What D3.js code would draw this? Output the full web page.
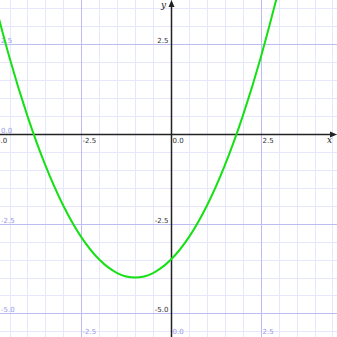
<!DOCTYPE html>
<html>
<head>
<meta charset="utf-8">
<script src="https://cdn.jsdelivr.net/npm/d3@7"></script>
<style>
  html, body { margin: 0; padding: 0; background: #fff; }
  svg { display: block; }
  text { font-family: "DejaVu Sans", Verdana, sans-serif; font-size: 7px; }
</style>
</head>
<body>
<div id="chart"></div>
<script>
// curve samples (x, y)
var curveX = [-5.0, -4.5, -4.0, -3.5, -3.0, -2.5, -2.0, -1.5, -1.0, -0.5, 0.0, 0.5, 1.0, 1.5, 2.0, 2.5, 3.0];
var curveY = [4.0, 2.125, 0.5, -0.875, -2.0, -2.875, -3.5, -3.875, -4.0, -3.875, -3.5, -2.875, -2.0, -0.875, 0.5, 2.125, 4.0];
// tick labels
var xTickValues = [-5.0, -2.5, 0.0, 2.5];
var yTickValues = [2.5, -2.5, -5.0];
var xEdgeValues = [-2.5, 0.0, 2.5];
var yEdgeValues = [2.5, 0.0, -2.5, -5.0];

var width = 337, height = 337;
var x = d3.scaleLinear().domain([-4.766, 4.627]).range([0, width]);
var y = d3.scaleLinear().domain([3.735, -5.658]).range([0, height]);
var px = function(v) { return Math.round(x(v)) + 0.5; };
var py = function(v) { return Math.round(y(v)) + 0.5; };
var fmt = function(v) { return v.toFixed(1); };

var svg = d3.select('#chart').append('svg')
    .attr('width', width)
    .attr('height', height);

svg.append('defs').append('clipPath').attr('id', 'plot')
  .append('rect').attr('width', width).attr('height', height);

// grid
var minor = d3.range(-6, 6.01, 0.5);
var major = d3.range(-5, 5.01, 2.5);
var grid = svg.append('g');
grid.selectAll('.vmin').data(minor).enter().append('line')
    .attr('x1', px).attr('x2', px).attr('y1', 0).attr('y2', height)
    .attr('stroke', '#e6e6fd').attr('stroke-width', 1);
grid.selectAll('.hmin').data(minor).enter().append('line')
    .attr('y1', py).attr('y2', py).attr('x1', 0).attr('x2', width)
    .attr('stroke', '#e6e6fd').attr('stroke-width', 1);
grid.selectAll('.vmaj').data(major).enter().append('line')
    .attr('x1', px).attr('x2', px).attr('y1', 0).attr('y2', height)
    .attr('stroke', '#bdbdf2').attr('stroke-width', 1);
grid.selectAll('.hmaj').data(major).enter().append('line')
    .attr('y1', py).attr('y2', py).attr('x1', 0).attr('x2', width)
    .attr('stroke', '#bdbdf2').attr('stroke-width', 1);

// edge labels (lavender)
svg.selectAll('.yedge').data(yEdgeValues).enter().append('text')
    .attr('x', 1).attr('y', function(d) { return Math.round(y(d)) - 1.5; })
    .attr('fill', '#9a9ae6')
    .text(fmt);
svg.selectAll('.xedge').data(xEdgeValues).enter().append('text')
    .attr('x', function(d) { return Math.round(x(d)) + 1.5; }).attr('y', 333.5)
    .attr('fill', '#9a9ae6')
    .text(fmt);

// axes
var ax = px(0), ay = py(0);
svg.append('line').attr('x1', ax).attr('x2', ax).attr('y1', 4).attr('y2', height)
    .attr('stroke', '#222').attr('stroke-width', 1.5);
svg.append('line').attr('x1', 0).attr('x2', width - 4).attr('y1', ay).attr('y2', ay)
    .attr('stroke', '#222').attr('stroke-width', 1.5);
svg.append('path')
    .attr('d', 'M' + (ax - 3) + ',7L' + ax + ',0L' + (ax + 3) + ',7Z')
    .attr('fill', '#222');
svg.append('path')
    .attr('d', 'M' + (width - 7) + ',' + (ay - 3) + 'L' + width + ',' + ay + 'L' + (width - 7) + ',' + (ay + 3) + 'Z')
    .attr('fill', '#222');
svg.append('text').attr('x', 166).attr('y', 8).attr('text-anchor', 'end')
    .style('font-family', '"DejaVu Serif", serif').style('font-style', 'italic').style('font-size', '9px')
    .attr('fill', '#222').text('y');
svg.append('text').attr('x', 327).attr('y', 143)
    .style('font-family', '"DejaVu Serif", serif').style('font-style', 'italic').style('font-size', '9px')
    .attr('fill', '#222').text('x');

// axis labels (dark)
svg.selectAll('.xlab').data(xTickValues).enter().append('text')
    .attr('x', function(d) { return Math.round(x(d)) + 1.5; }).attr('y', 143)
    .attr('fill', '#333')
    .text(fmt);
svg.selectAll('.ylab').data(yTickValues).enter().append('text')
    .attr('x', ax - 3).attr('y', function(d) { return Math.round(y(d)) - 1.5; })
    .attr('text-anchor', 'end')
    .attr('fill', '#333')
    .text(fmt);

// curve
var line = d3.line()
    .x(function(d) { return x(d[0]); })
    .y(function(d) { return y(d[1]); })
    .curve(d3.curveNatural);
svg.append('path')
    .datum(d3.zip(curveX, curveY))
    .attr('clip-path', 'url(#plot)')
    .attr('d', line)
    .attr('fill', 'none')
    .attr('stroke', '#14e014')
    .attr('stroke-width', 2);
</script>
</body>
</html>
